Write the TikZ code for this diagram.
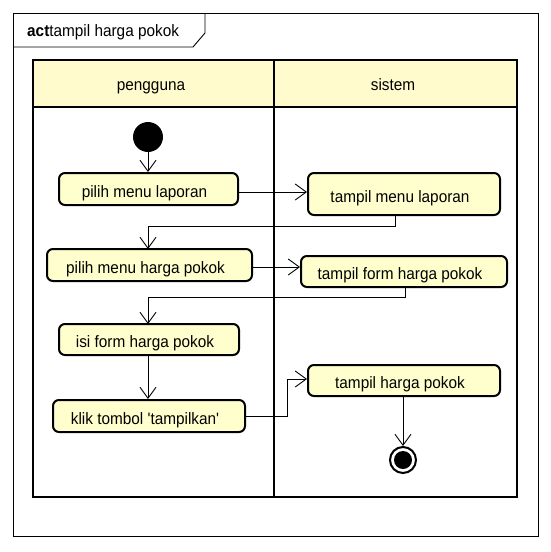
\documentclass[tikz,border=0pt]{standalone}
\usepackage{fontspec}
\setmainfont{Liberation Sans}[FakeStretch=0.93,Ligatures=TeXOff]
\usetikzlibrary{arrows.meta,calc}
\definecolor{nodefill}{RGB}{255,255,206}
\definecolor{headfill}{RGB}{255,251,204}
\begin{document}
\begin{tikzpicture}[x=1pt,y=-1pt,
  every node/.style={font=\fontsize{16.5}{18}\selectfont,text height=16pt,text depth=0pt},
  act/.style={draw=black,line width=2pt,fill=nodefill,rounded corners=6pt,inner sep=0pt,align=center},
  flow/.style={draw=black,line width=0.9pt,-{Straight Barb[length=11pt,width=16pt,line width=0.9pt]}},
  lane/.style={draw=black,line width=2.4pt}]
\useasboundingbox (0,0) rectangle (550,552);
\fill[white] (0,0) rectangle (550,552);
% frame
\draw[line width=0.9pt] (13,13) rectangle (538,536);
\draw[line width=0.9pt] (13,47) -- (193,47) -- (205,33) -- (205,13);
\node[anchor=base west,inner sep=0pt,text height=,text depth=] (title) at (27,36) {\textbf{act}tampil harga pokok};
% swimlanes
\fill[headfill] (33,60) rectangle (517,107);
\draw[lane] (33,60) rectangle (517,497);
\draw[lane] (33,107) -- (517,107);
\draw[lane] (274,60) -- (274,497);
\node[inner sep=0pt] (lane1) at (151,82) {pengguna};
\node[inner sep=0pt] (lane2) at (393,82) {sistem};
% nodes
\fill (148,137) circle (15);
\coordinate (start) at (148,152);
\node[act,minimum width=179pt,minimum height=32pt] (n1) at (148.5,189) {\hspace*{-8pt}pilih menu laporan};
\node[act,minimum width=205pt,minimum height=32pt] (n2) at (149.5,265) {\hspace*{-8pt}pilih menu harga pokok};
\node[act,minimum width=180pt,minimum height=31pt] (n3) at (149,339.5) {\hspace*{-8pt}isi form harga pokok};
\node[act,minimum width=192pt,minimum height=32pt] (n4) at (149,416) {\hspace*{-8pt}klik tombol 'tampilkan'};
\node[act,minimum width=192pt,minimum height=42pt] (s1) at (404,194) {\hspace*{-8pt}tampil menu laporan};
\node[act,minimum width=206pt,minimum height=31pt] (s2) at (404,271.5) {\hspace*{-8pt}tampil form harga pokok};
\node[act,minimum width=192pt,minimum height=31pt] (s3) at (404,380.5) {\hspace*{-8pt}tampil harga pokok};
\node[circle,draw=black,line width=2pt,fill=white,minimum size=26pt,inner sep=0pt,text height=,text depth=] (fin) at (403,460) {};
\fill (fin.center) circle (9);
% connectors
\draw[flow] (start) -- (start |- n1.north);
\coordinate (a1) at ($(n1.east)+(0,3)$);
\draw[flow] (a1) -- (a1 -| s1.west);
\coordinate (b1) at ($(s1.south)+(-9,0)$);
\draw[flow] (b1) -- ++(0,10) -| (148,249);
\coordinate (a2) at ($(n2.east)+(0,2)$);
\draw[flow] (a2) -- (a2 -| s2.west);
\coordinate (b2) at ($(s2.south)+(1,0)$);
\draw[flow] (b2) -- ++(0,9) -| (148,324);
\draw[flow] (n3.south -| 148,0) -- (n4.north -| 148,0);
\draw[flow] (n4.east) -- (287,416) -- (287,379) -- (s3.west |- 0,379);
\draw[flow] (s3.south -| fin.north) -- (fin.north);
\end{tikzpicture}
\end{document}
